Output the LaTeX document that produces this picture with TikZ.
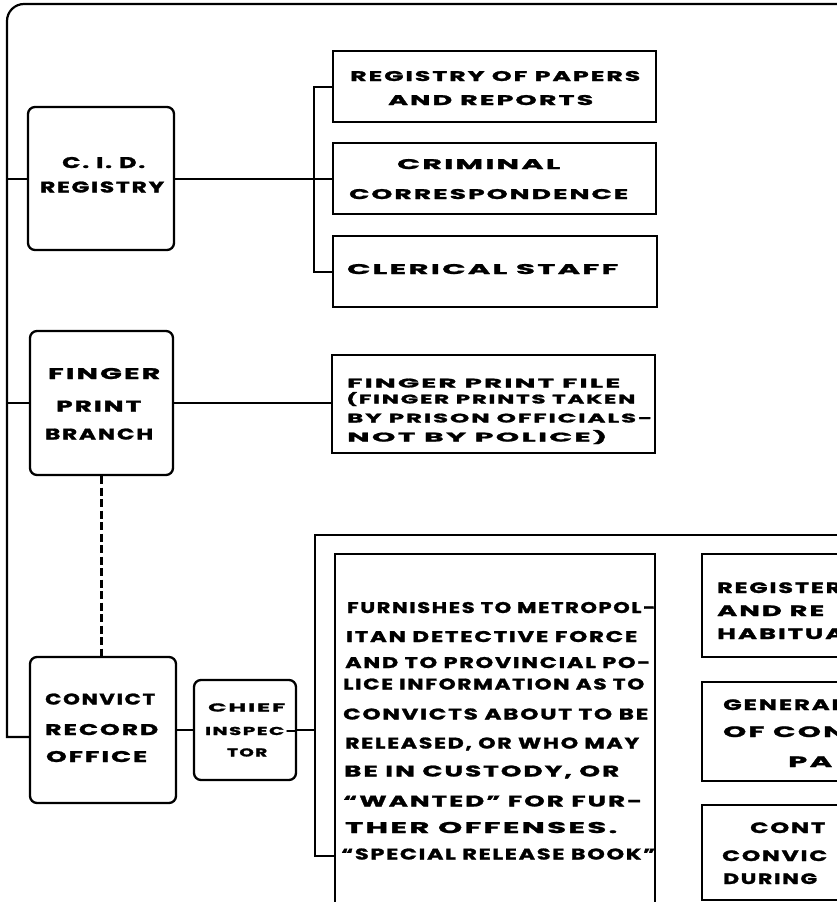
\documentclass[tikz,border=0pt]{standalone}
\usepackage{fontspec}
\usepackage{graphicx}
\newfontfamily\lettering{Poppins}[LetterSpace=8,BoldFeatures={FakeBold=1.5}]
\newcommand\fitw[2]{\resizebox{#1pt}{\height}{#2}}
\begin{document}
\begin{tikzpicture}[x=1pt,y=-1pt,
  bx/.style 2 args={draw,line width=2.3pt,inner sep=0pt,minimum width=#1pt,minimum height=#2pt},
  rbx/.style 2 args={bx={#1}{#2},rounded corners=7pt},
  conn/.style={line width=2pt},
  dash link/.style={line width=2.1pt,dash pattern=on 8pt off 3.5pt},
  lab/.style={anchor=base west,inner sep=0pt,font=\lettering\bfseries\fontsize{#1}{#1}\selectfont}]
\useasboundingbox (0,0) rectangle (837,902);
\clip (0,0) rectangle (837,902);

% boxes
\node[rbx={146}{143}] (cid) at (101,178.5) {};
\node[rbx={143}{144}] (fpb) at (101.5,403) {};
\node[rbx={146}{146}] (cro) at (103,730) {};
\node[rbx={102}{100}] (chi) at (245,730) {};
\node[bx={323}{71}] (b1) at (494.5,86.5) {};
\node[bx={323}{71}] (b2) at (494.5,178.5) {};
\node[bx={324}{71}] (b3) at (495,271.5) {};
\node[bx={323}{98}] (fpf) at (493.5,404) {};
\node[bx={320}{358}] (fur) at (495,733) {};
\node[bx={198}{103}] (r1) at (801,605.5) {};
\node[bx={198}{99}] (r2) at (801,731.5) {};
\node[bx={198}{95}] (r3) at (801,852.5) {};

% coordinates for trunks
\coordinate (trk) at (7,0);
\coordinate (cb) at (314,0);
\coordinate (bb) at (315,0);
\coordinate (topend) at (850,4);
\coordinate (bbend) at (850,535);

% outer trunk
\draw[conn,line width=2.2pt] (topend) [rounded corners=17pt] -- (7,4) -- (7,120) [sharp corners] -- (7,737) -- ([yshift=-7pt]cro.west);
\draw[conn] (cid.west) -- (cid.west -| trk);
\draw[conn] (fpb.west) -- (fpb.west -| trk);

% CID bracket
\draw[conn] (cid.east) -- (b2.west);
\draw[conn] (b1.west) -- (b1.west -| cb) -- (b3.west -| cb) -- (b3.west);

% finger print
\draw[conn] (fpb.east) -- (fpb.east -| fpf.west);
\draw[dash link] (fpb.south) -- (fpb.south |- cro.north);

% convict record
\draw[conn] (cro.east) -- (chi.west);
\draw[conn] (chi.east) -- (chi.east -| bb);
\draw[conn] (bbend) -- (bbend -| bb) -- ([yshift=-123pt]fur.west -| bb) -- ([yshift=-123pt]fur.west);

% texts: main boxes
\node[lab=15.5] (t1) at (62,168) {\fitw{83}{C. I. D.}};
\node[lab=15.5] (t2) at (40,192.5) {\fitw{124}{REGISTRY}};
\node[lab=15.5] (t3) at (48,379) {\fitw{112}{FINGER}};
\node[lab=15.5] (t4) at (56,411.5) {\fitw{85}{PRINT}};
\node[lab=15.5] (t5) at (45,439.5) {\fitw{108}{BRANCH}};
\node[lab=15.5] (t6) at (45,704.5) {\fitw{110}{CONVICT}};
\node[lab=15.5] (t7) at (45,735) {\fitw{113}{RECORD}};
\node[lab=15.5] (t8) at (46,762) {\fitw{101}{OFFICE}};

% list boxes
\node[lab=14] (t9) at (350,81) {\fitw{290}{REGISTRY OF PAPERS}};
\node[lab=14] (t10) at (388,105) {\fitw{205}{AND REPORTS}};
\node[lab=14] (t11) at (397,169) {\fitw{163}{CRIMINAL}};
\node[lab=14] (t12) at (349,199) {\fitw{279}{CORRESPONDENCE}};
\node[lab=14] (t13) at (347,274) {\fitw{271}{CLERICAL STAFF}};

% finger print file
\node[lab=12.5] (t14) at (347,387.5) {\fitw{273}{FINGER PRINT FILE}};
\node[lab=12.5] (t15) at (346,403.5) {\fitw{289}{(FINGER PRINTS TAKEN}};
\node[lab=12.5] (t16) at (347,422.5) {\fitw{305}{BY PRISON OFFICIALS-}};
\node[lab=12.5] (t17) at (347,441.5) {\fitw{260}{NOT BY POLICE)}};

% chief inspector
\node[lab=11.5] (t18) at (208,711.5) {\fitw{77}{CHIEF}};
\node[lab=11.5] (t19) at (205,735) {\fitw{92}{INSPEC-}};
\node[lab=11.5] (t20) at (227,756.5) {\fitw{40}{TOR}};

% furnishes
\node[lab=15.5] (t21) at (347,613) {\fitw{308}{FURNISHES TO METROPOL-}};
\node[lab=15.5] (t22) at (346,642) {\fitw{291}{ITAN DETECTIVE FORCE}};
\node[lab=15.5] (t23) at (345,668) {\fitw{305}{AND TO PROVINCIAL PO-}};
\node[lab=15.5] (t24) at (343,689.5) {\fitw{301}{LICE INFORMATION AS TO}};
\node[lab=15.5] (t25) at (343,719.5) {\fitw{305}{CONVICTS ABOUT TO BE}};
\node[lab=15.5] (t26) at (345,748.5) {\fitw{294}{RELEASED, OR WHO MAY}};
\node[lab=15.5] (t27) at (344,776.5) {\fitw{275}{BE IN CUSTODY, OR}};
\node[lab=15.5] (t28) at (343,806.5) {\fitw{299}{“WANTED” FOR FUR-}};
\node[lab=15.5] (t29) at (345,833) {\fitw{272}{THER OFFENSES.}};
\node[lab=15.5] (t30) at (341,859.5) {\fitw{314}{“SPECIAL RELEASE BOOK”}};

% right column (cut at the edge)
\node[lab=15] (t31) at (717,593) {\fitw{124}{REGISTER}};
\node[lab=15] (t32) at (717,616) {\fitw{107}{AND RE}};
\node[lab=15] (t33) at (717,639) {\fitw{127}{HABITUA}};
\node[lab=15] (t34) at (723,710) {\fitw{120}{GENERAL}};
\node[lab=15] (t35) at (723,737) {\fitw{122}{OF CON}};
\node[lab=15] (t36) at (788,767) {\fitw{44}{PA}};
\node[lab=15] (t37) at (750,833) {\fitw{75}{CONT}};
\node[lab=15] (t38) at (722,861) {\fitw{105}{CONVIC}};
\node[lab=15] (t39) at (723,884) {\fitw{94}{DURING}};
\end{tikzpicture}
\end{document}
